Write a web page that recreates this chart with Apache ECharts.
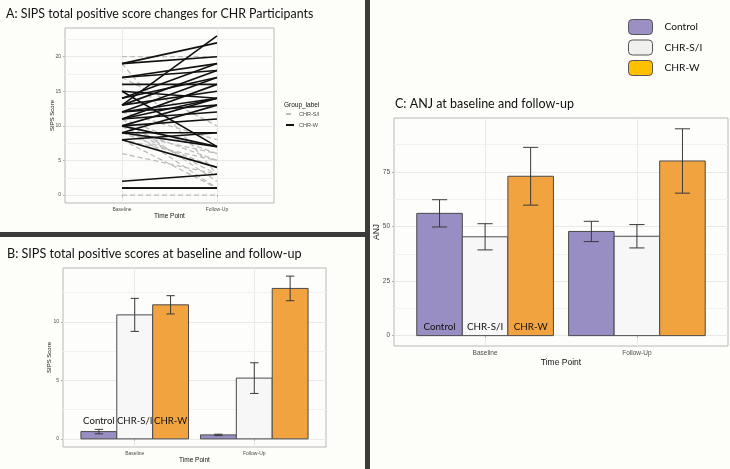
<!DOCTYPE html>
<html><head><meta charset="utf-8">
<script src="https://cdn.jsdelivr.net/npm/echarts@6/dist/echarts.min.js"></script>
<style>
html,body{margin:0;padding:0;background:#fdfdf9;}
#wrap{position:relative;width:730px;height:469px;overflow:hidden;background:#fdfdf9;}
#a{position:absolute;left:0;top:0;width:365px;height:232px;}
#b{position:absolute;left:0;top:237px;width:365px;height:232px;}
#c{position:absolute;left:370px;top:0;width:360px;height:469px;}
.vsep{position:absolute;left:365px;top:0;width:5px;height:469px;background:#3b3b3b;}
.hsep{position:absolute;left:0;top:232px;width:365px;height:5px;background:#3b3b3b;}
</style></head>
<body>
<div id="wrap">
  <div id="a"></div><div id="b"></div><div id="c"></div>
  <div class="vsep"></div><div class="hsep"></div>
</div>
<script>
// ---------- data ----------
const timePoints = ['Baseline', 'Follow-Up'];
const groups = ['Control', 'CHR-S/I', 'CHR-W'];

// Panel A: individual SIPS total positive scores (baseline -> follow-up)
const siBaseline = [20, 19, 17, 12, 11, 11, 10, 10, 10, 9, 9, 8, 8, 6, 0];
const siFollowUp = [20, 3, 10, 8, 6, 2, 5, 3, 1, 6, 4, 5, 1, 3, 0];
const wBaseline = [19, 19, 17, 17, 16, 15, 15, 14, 14, 13, 13, 13, 12, 12, 12, 11, 11, 11, 10, 10, 10, 9, 9, 9, 8, 8, 2, 1, 1];
const wFollowUp = [22, 20, 19, 18, 16, 14, 7, 19, 17, 23, 18, 15, 17, 14, 13, 16, 14, 12, 14, 11, 7, 13, 9, 7, 9, 4, 3, 1, 1];
const aYTicks = [0, 5, 10, 15, 20];

// Panel B: SIPS mean and SE [Baseline, Follow-Up]
const sipsControl = [0.62, 0.34];
const sipsControlSE = [0.19, 0.06];
const sipsSI = [10.59, 5.19];
const sipsSISE = [1.41, 1.31];
const sipsW = [11.45, 12.85];
const sipsWSE = [0.78, 1.05];
const bYTicks = [0, 5, 10];

// Panel C: ANJ mean and SE [Baseline, Follow-Up]
const anjControl = [56.05, 47.75];
const anjControlSE = [6.25, 4.65];
const anjSI = [45.3, 45.55];
const anjSISE = [6.0, 5.35];
const anjW = [73.05, 80.05];
const anjWSE = [13.25, 14.75];
const cYTicks = [0, 25, 50, 75];

// ---------- styles ----------
const FONT_AX = '"Liberation Sans", Arial, sans-serif';
const FONT_TI = 'Lato, "Noto Sans", sans-serif';
const barColors = ['#998ec3', '#f7f7f7', '#f1a340'];
const legendColors = ['#9b8fc4', '#f0f0ee', '#ffc000'];
const PANEL_BG = '#fdfdfb';

function minorOf(ticks, max) {
  const step = ticks[1] - ticks[0];
  const out = [];
  ticks.forEach(t => { if (t + step / 2 < max) out.push(t + step / 2); });
  return out;
}

function xAxisCfg(o) {
  return {
    type: 'value', min: 0.4, max: 2.6,
    name: 'Time Point', nameLocation: 'middle', nameGap: o.nameGap, nameMoveOverlap: false,
    nameTextStyle: {fontFamily: FONT_AX, fontSize: o.nameSize, color: '#111'},
    axisLine: {show: false},
    axisTick: {show: true, length: 2, lineStyle: {color: '#b3b3b3'}, customValues: [1, 2]},
    axisLabel: {customValues: [1, 2], formatter: v => timePoints[Math.round(v) - 1],
      fontSize: o.labelSize, color: '#4d4d4d', fontFamily: FONT_AX, margin: o.labelMargin},
    splitLine: {show: true, lineStyle: {color: '#e9e9e9', width: 1}}
  };
}
function yAxisCfg(o) {
  return {
    type: 'value', min: o.min, max: o.max,
    name: o.name, nameLocation: 'middle', nameGap: o.nameGap, nameMoveOverlap: false,
    nameTextStyle: {fontFamily: FONT_AX, fontSize: o.nameSize, color: '#111'},
    axisLine: {show: false},
    axisTick: {show: true, length: 2, lineStyle: {color: '#b3b3b3'}, customValues: o.ticks},
    axisLabel: {customValues: o.ticks, fontSize: o.labelSize, color: '#4d4d4d', fontFamily: FONT_AX, margin: o.labelMargin},
    splitLine: {show: true, lineStyle: {color: '#e9e9e9', width: 1}}
  };
}
function minorLineSeries(ticks, max) {
  return {
    type: 'line', data: [], silent: true, z: 1,
    markLine: {silent: true, symbol: 'none', z: 1, animation: false,
      label: {show: false},
      lineStyle: {color: '#f2f2f2', width: 1, type: 'solid'},
      data: minorOf(ticks, max).map(v => ({yAxis: v}))}
  };
}
function gridCfg(l, t, r, b) {
  return {left: l, top: t, right: r, bottom: b, containLabel: false, outerBoundsMode: 'none', show: true,
    borderColor: '#b8b8b8', borderWidth: 1, backgroundColor: PANEL_BG};
}

function barSeries(name, means, gi) {
  return {
    type: 'custom', name: name, z: 3, itemStyle: {color: barColors[gi]},
    data: means.map((m, i) => [i + 1, m]),
    renderItem(params, api) {
      const cx = api.value(0) + (gi - 1) * 0.3;
      const p0 = api.coord([cx - 0.15, api.value(1)]);
      const p1 = api.coord([cx + 0.15, 0]);
      return {type: 'rect',
        shape: {x: p0[0], y: p0[1], width: p1[0] - p0[0], height: p1[1] - p0[1]},
        style: {fill: barColors[gi], stroke: '#4a4a4a', lineWidth: 1}};
    }
  };
}
function errSeries(means, ses, gi, capHalf) {
  return {
    type: 'custom', z: 4, silent: true,
    data: means.map((m, i) => [i + 1, m - ses[i], m + ses[i]]),
    renderItem(params, api) {
      const cx = api.value(0) + (gi - 1) * 0.3;
      const lo = api.coord([cx, api.value(1)]);
      const hi = api.coord([cx, api.value(2)]);
      const l = api.coord([cx - capHalf, 0])[0];
      const r = api.coord([cx + capHalf, 0])[0];
      const st = {stroke: '#3a3a3a', lineWidth: 1};
      return {type: 'group', children: [
        {type: 'line', shape: {x1: lo[0], y1: lo[1], x2: hi[0], y2: hi[1]}, style: st},
        {type: 'line', shape: {x1: l, y1: lo[1], x2: r, y2: lo[1]}, style: st},
        {type: 'line', shape: {x1: l, y1: hi[1], x2: r, y2: hi[1]}, style: st}
      ]};
    }
  };
}
function labelSeries(offsetPx, fontSize) {
  return {
    type: 'custom', z: 6, silent: true,
    data: groups.map((g, gi) => [1, gi]),
    renderItem(params, api) {
      const gi = api.value(1);
      const cx = api.value(0) + (gi - 1) * 0.3;
      const p = api.coord([cx, 0]);
      return {type: 'text', z2: 100,
        style: {text: groups[gi], x: p[0], y: p[1] - offsetPx, align: 'center', verticalAlign: 'middle',
          fontFamily: FONT_TI, fontSize: fontSize, fill: '#111'}};
    }
  };
}
function titleText(text, x, y, size) {
  return {type: 'text', x: x, y: y, silent: true,
    style: {text: text, fontFamily: FONT_TI, fontSize: size, fill: '#111', verticalAlign: 'middle'}};
}

// ---------- Panel A ----------
const chartA = echarts.init(document.getElementById('a'));
const aSeries = [minorLineSeries(aYTicks, 24.15)];
siBaseline.forEach((b, i) => aSeries.push({
  type: 'line', name: 'CHR-S/I', data: [[1, b], [2, siFollowUp[i]]], symbol: 'none', silent: true, z: 2,
  itemStyle: {color: '#bdbdbd'},
  lineStyle: {color: '#bdbdbd', width: 1.3, type: [5, 3]}
}));
wBaseline.forEach((b, i) => aSeries.push({
  type: 'line', name: 'CHR-W', data: [[1, b], [2, wFollowUp[i]]], symbol: 'none', silent: true, z: 3,
  itemStyle: {color: '#111111'},
  lineStyle: {color: '#111111', width: 1.6}
}));
chartA.setOption({
  animation: false,
  grid: gridCfg(65, 28, 91, 29),
  xAxis: xAxisCfg({nameGap: 10, nameSize: 6.5, labelSize: 5, labelMargin: 4}),
  yAxis: yAxisCfg({min: -1.15, max: 24.15, ticks: aYTicks, name: 'SIPS Score', nameGap: 10, nameSize: 6, labelSize: 5, labelMargin: 4}),
  legend: {left: 285, top: 111, padding: 0, orient: 'vertical', itemWidth: 8, itemHeight: 6, itemGap: 5,
    selectedMode: false, data: ['CHR-S/I', 'CHR-W'], itemStyle: {opacity: 0},
    textStyle: {fontSize: 5.5, color: '#4d4d4d', fontFamily: FONT_AX}},
  graphic: [
    titleText('A: SIPS total positive score changes for CHR Participants', 6, 14, 12.4),
    {type: 'text', x: 284, y: 105, silent: true,
      style: {text: 'Group_label', fontFamily: FONT_AX, fontSize: 6.5, fill: '#111', verticalAlign: 'middle'}}
  ],
  series: aSeries
});

// ---------- Panel B ----------
const chartB = echarts.init(document.getElementById('b'));
chartB.setOption({
  animation: false,
  grid: gridCfg(63, 31, 39, 22),
  xAxis: xAxisCfg({nameGap: 10, nameSize: 6.5, labelSize: 5, labelMargin: 4}),
  yAxis: yAxisCfg({min: -0.695, max: 14.595, ticks: bYTicks, name: 'SIPS Score', nameGap: 11, nameSize: 6, labelSize: 5, labelMargin: 4}),
  graphic: [titleText('B: SIPS total positive scores at baseline and follow-up', 7, 17, 12.6)],
  series: [
    minorLineSeries(bYTicks, 14.595),
    barSeries('Control', sipsControl, 0),
    barSeries('CHR-S/I', sipsSI, 1),
    barSeries('CHR-W', sipsW, 2),
    errSeries(sipsControl, sipsControlSE, 0, 0.035),
    errSeries(sipsSI, sipsSISE, 1, 0.035),
    errSeries(sipsW, sipsWSE, 2, 0.035),
    labelSeries(18, 9.6)
  ]
});

// ---------- Panel C ----------
const chartC = echarts.init(document.getElementById('c'));
chartC.setOption({
  animation: false,
  grid: gridCfg(24, 118, 2, 123),
  xAxis: xAxisCfg({nameGap: 12, nameSize: 8.5, labelSize: 6.5, labelMargin: 4}),
  yAxis: yAxisCfg({min: -4.75, max: 99.75, ticks: cYTicks, name: 'ANJ', nameGap: 13, nameSize: 8.5, labelSize: 6.5, labelMargin: 4}),
  legend: {left: 258, top: 19, padding: 0, orient: 'vertical', itemWidth: 24, itemHeight: 15, itemGap: 4.5,
    icon: 'roundRect', selectedMode: false,
    data: groups.map((g, gi) => ({name: g, itemStyle: {color: legendColors[gi], borderColor: '#555', borderWidth: 1}})),
    textStyle: {fontSize: 10.2, color: '#111', fontFamily: FONT_TI, padding: [0, 0, 0, 7]}},
  graphic: [titleText('C: ANJ at baseline and follow-up', 25, 104, 12.5)],
  series: [
    minorLineSeries(cYTicks, 99.75),
    barSeries('Control', anjControl, 0),
    barSeries('CHR-S/I', anjSI, 1),
    barSeries('CHR-W', anjW, 2),
    errSeries(anjControl, anjControlSE, 0, 0.05),
    errSeries(anjSI, anjSISE, 1, 0.05),
    errSeries(anjW, anjWSE, 2, 0.05),
    labelSeries(9, 9.8)
  ]
});
</script>
</body></html>
